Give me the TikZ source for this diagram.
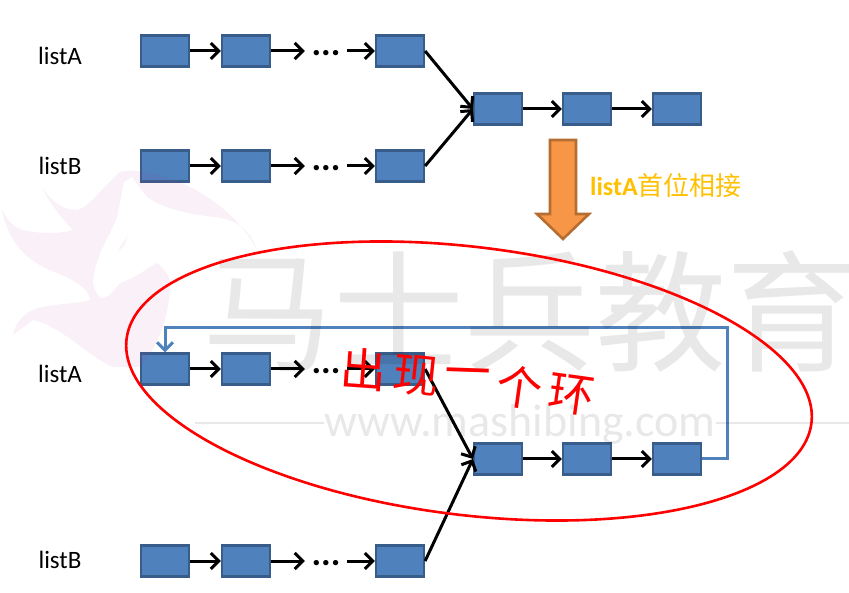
\documentclass[tikz,border=0pt]{standalone}
\usepackage{fontspec}
\setmainfont{Carlito}
\newfontfamily\cjk{Noto Sans CJK SC}
\usetikzlibrary{arrows.meta}
\definecolor{boxfill}{HTML}{4F81BD}
\definecolor{boxline}{HTML}{385D8A}
\definecolor{turnfill}{HTML}{F79646}
\definecolor{turnline}{HTML}{B66D31}
\definecolor{turntext}{HTML}{FFC000}
\definecolor{markpink}{HTML}{B040A0}
\tikzset{
  cell/.style={draw=boxline,line width=2.2pt,fill=boxfill,minimum width=48pt,minimum height=31pt,inner sep=0pt},
  link/.style={draw=black,line width=3pt,-{Straight Barb[length=8pt,width=16pt,line width=3pt]}},
  more/.style={font=\fontsize{36}{36}\selectfont\bfseries,inner sep=0pt,minimum width=42pt},
  listname/.style={font=\fontsize{25}{27}\selectfont,inner sep=0pt}
}
\begin{document}
\begin{tikzpicture}[x=1pt,y=-1pt]
\useasboundingbox (0,0) rectangle (849,593);
\foreach \n/\x/\y in {p1/165/51,p2/246/51,p3/400/51,q1/165/166,q2/246/166,q3/400/166,r1/498/109,r2/587/109,r3/677/109,
  s1/165/369,s2/246/369,s3/400/369,t1/165/561,t2/246/561,t3/400/561,u1/498/459,u2/587/459,u3/677/459}
  \node[cell] (\n) at (\x,\y) {};
\foreach \n/\x/\y in {pd/326/53,qd/326/168,sd/326/371,td/326/563}
  \node[more] (\n) at (\x,\y) {...};
\foreach \a/\b/\c in {p1/p2/pd,q1/q2/qd,s1/s2/sd,t1/t2/td}{
  \draw[link] (\a) -- (\b);
  \draw[link] (\b) -- (\b-|\c.west);
}
\draw[link] (p3-|pd.east) -- (p3);
\draw[link] (q3-|qd.east) -- (q3);
\draw[link] (s3-|sd.east) -- (s3);
\draw[link] (t3-|td.east) -- (t3);
\foreach \a/\b in {r1/r2,r2/r3,u1/u2,u2/u3}
  \draw[link] (\a) -- (\b);
\draw[link] (p3.east) -- (r1.west);
\draw[link] (q3.east) -- (r1.west);
\draw[link] (s3.east) -- (u1.west);
\draw[link] (t3.east) -- (u1.west);
\node[listname] (la) at (60,56) {listA};
\node[listname] (lb) at (60,166) {listB};
\node[listname] (lc) at (60,374) {listA};
\node[listname] (ld) at (60,560) {listB};
\draw[turnline,line width=2.6pt,fill=turnfill,line join=miter] (550,140) -- (576,140) -- (576,214) -- (589,214) -- (563,239) -- (537,214) -- (550,214) -- cycle;
\node[text=turntext,font=\fontsize{26}{28}\selectfont,inner sep=0pt] (join) at (666,186) {\textbf{listA}{\cjk 首位相接}};
\coordinate (bendr) at (727,459);
\coordinate (bendt) at (727,328);
\draw[boxfill,line width=3pt,-{Straight Barb[length=8pt,width=16pt,line width=3pt]}] (u3.east) -- (bendr) -- (bendt) -- (bendt-|s1) -- (s1.north);
\fill[markpink,opacity=.08] (2,210) .. controls (8,222) and (15,228) .. (23,230) .. controls (40,234) and (60,234) .. (73,230)
  .. controls (65,222) and (50,205) .. (42,187) .. controls (50,200) and (62,210) .. (77,210)
  .. controls (88,208) and (100,190) .. (120,172) .. controls (150,165) and (225,190) .. (257,250)
  .. controls (250,232) and (240,220) .. (215,217) .. controls (195,215) and (165,210) .. (147,197)
  -- (132,177) -- (124,182) -- (117,217) .. controls (108,240) and (95,255) .. (93,283)
  .. controls (95,292) and (98,298) .. (103,298) .. controls (112,296) and (115,288) .. (120,283)
  .. controls (135,278) and (148,268) .. (157,263) .. controls (168,272) and (172,280) .. (170,290)
  .. controls (168,315) and (160,345) .. (140,367) -- (113,367) .. controls (90,358) and (60,325) .. (33,320)
  -- (13,335) .. controls (15,320) and (30,308) .. (43,307) .. controls (60,303) and (80,304) .. (90,300)
  .. controls (90,290) and (75,280) .. (57,273) .. controls (35,265) and (10,250) .. (2,210) -- cycle;
\fill[markpink,opacity=.08] (128,235) -- (117,252) -- (124,246) -- cycle;
\node[text=black,opacity=.09,font=\cjk\fontsize{131}{131}\selectfont,inner sep=0pt] (brand) at (530,311) {马士兵教育};
\node[text=black,opacity=.09,font=\fontsize{46}{46}\selectfont,inner sep=0pt] (site) at (520,424) {www.mashibing.com};
\coordinate (ruleleft) at (195,423);
\coordinate (ruleright) at (849,423);
\draw[black,opacity=.09,line width=1.4pt] (site.west|-ruleleft) -- (ruleleft);
\draw[black,opacity=.09,line width=1.4pt] (site.east|-ruleright) -- (ruleright);
\draw[red,line width=2.6pt] (469,381) ellipse[x radius=345,y radius=134,rotate=-7];
\foreach \t/\x/\y/\r in {出/364/370/-4,现/416/376/-6,一/468/378/-2,个/520/387/-8,环/572/395/-8}
  \node[text=red,font=\cjk\fontsize{46}{46}\selectfont,inner sep=0pt,rotate=\r] at (\x,\y) {\t};
\end{tikzpicture}
\end{document}
